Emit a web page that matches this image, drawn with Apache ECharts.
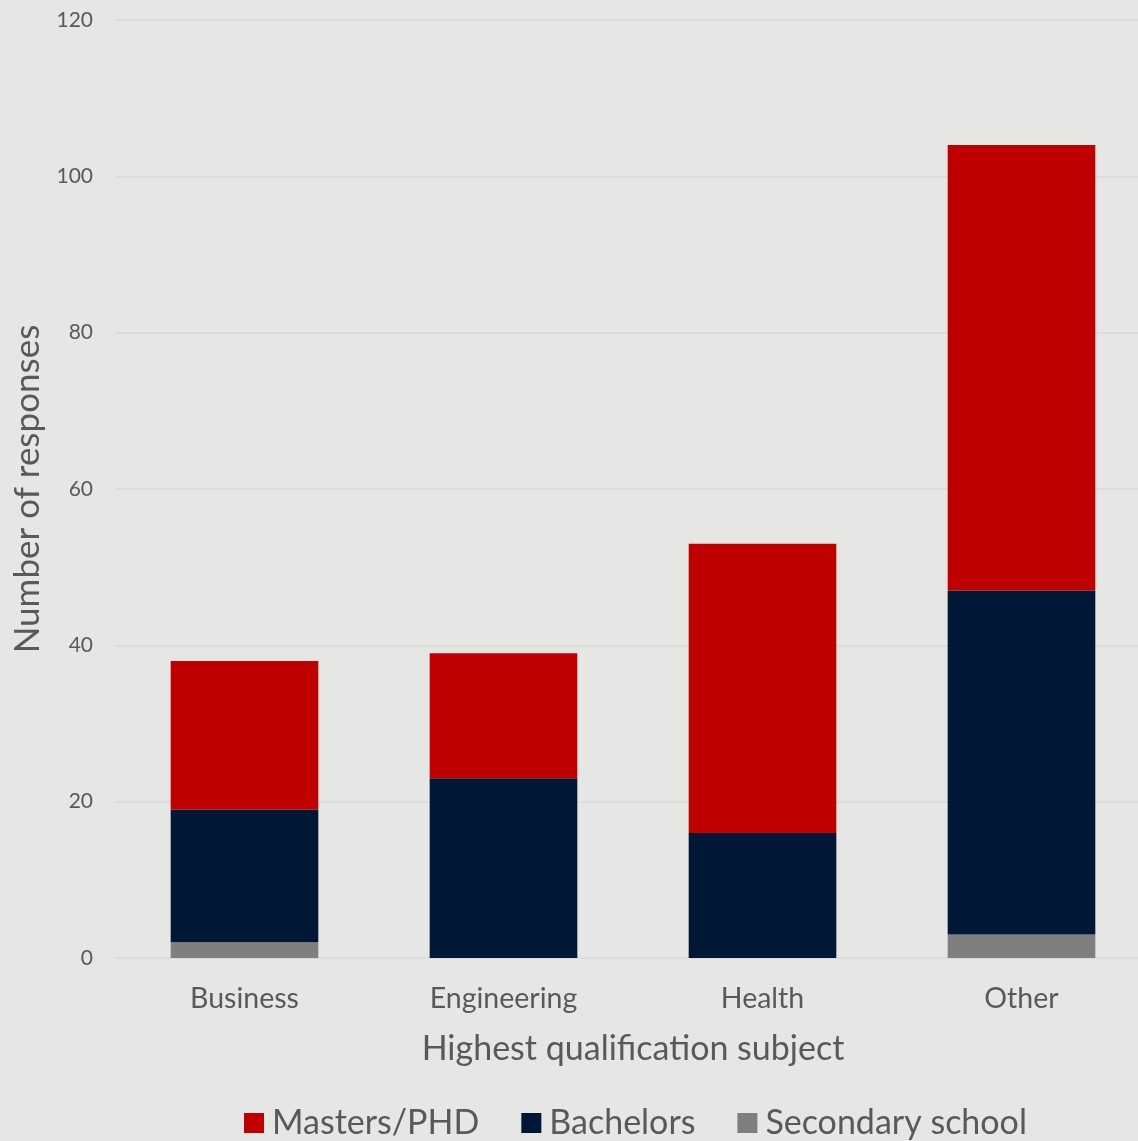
<!DOCTYPE html>
<html>
<head>
<meta charset="utf-8">
<script src="https://cdn.jsdelivr.net/npm/echarts@6/dist/echarts.min.js"></script>
<style>
  html, body { margin: 0; padding: 0; background: #e6e6e5; }
  #chart { width: 1138px; height: 1141px; }
</style>
</head>
<body>
<div id="chart"></div>
<script>
// Responses by highest qualification subject, stacked by qualification level
const categories = ['Business', 'Engineering', 'Health', 'Other'];
const secondarySchool = [2, 0, 0, 3];
const bachelors = [17, 23, 16, 44];
const mastersPhd = [19, 16, 37, 57];
const yTicks = { min: 0, max: 120, interval: 20 };

const FONT = 'Lato, "Open Sans", sans-serif';
const TEXT = '#595959';

const chart = echarts.init(document.getElementById('chart'), null, { renderer: 'canvas' });

function barSeries(name, data, color) {
  return {
    name: name,
    type: 'bar',
    stack: 'total',
    data: data,
    barWidth: '57%',
    itemStyle: { color: color },
    emphasis: { disabled: true }
  };
}

chart.setOption({
  backgroundColor: '#e6e6e5',
  animation: false,
  textStyle: { fontFamily: FONT },
  grid: {
    left: 115, top: 20, width: 1036, height: 938,
    containLabel: false,
    outerBoundsMode: 'none'
  },
  legend: {
    bottom: -4,
    left: 239,
    itemWidth: 20,
    itemHeight: 20,
    itemGap: 42,
    icon: 'rect',
    textStyle: { fontFamily: FONT, fontSize: 34, color: TEXT, padding: [0, 0, 0, 3] },
    data: ['Masters/PHD', 'Bachelors', 'Secondary school']
  },
  xAxis: {
    type: 'category',
    data: categories,
    name: 'Highest qualification subject',
    nameLocation: 'middle',
    nameGap: 74,
    nameTextStyle: { fontFamily: FONT, fontSize: 34, color: TEXT },
    axisLine: { show: false },
    axisTick: { show: false },
    axisLabel: { fontFamily: FONT, fontSize: 28.5, color: TEXT, margin: 26 }
  },
  yAxis: {
    type: 'value',
    min: yTicks.min,
    max: yTicks.max,
    interval: yTicks.interval,
    name: 'Number of responses',
    nameLocation: 'middle',
    nameGap: 68,
    nameTextStyle: { fontFamily: FONT, fontSize: 35, color: TEXT },
    axisLine: { show: false },
    axisTick: { show: false },
    axisLabel: { fontFamily: FONT, fontSize: 21, color: TEXT, margin: 22 },
    splitLine: { lineStyle: { color: '#d8d8d7', width: 1.5 } }
  },
  series: [
    barSeries('Secondary school', secondarySchool, '#7f7f7f'),
    barSeries('Bachelors', bachelors, '#001836'),
    barSeries('Masters/PHD', mastersPhd, '#c00000')
  ]
});
</script>
</body>
</html>
